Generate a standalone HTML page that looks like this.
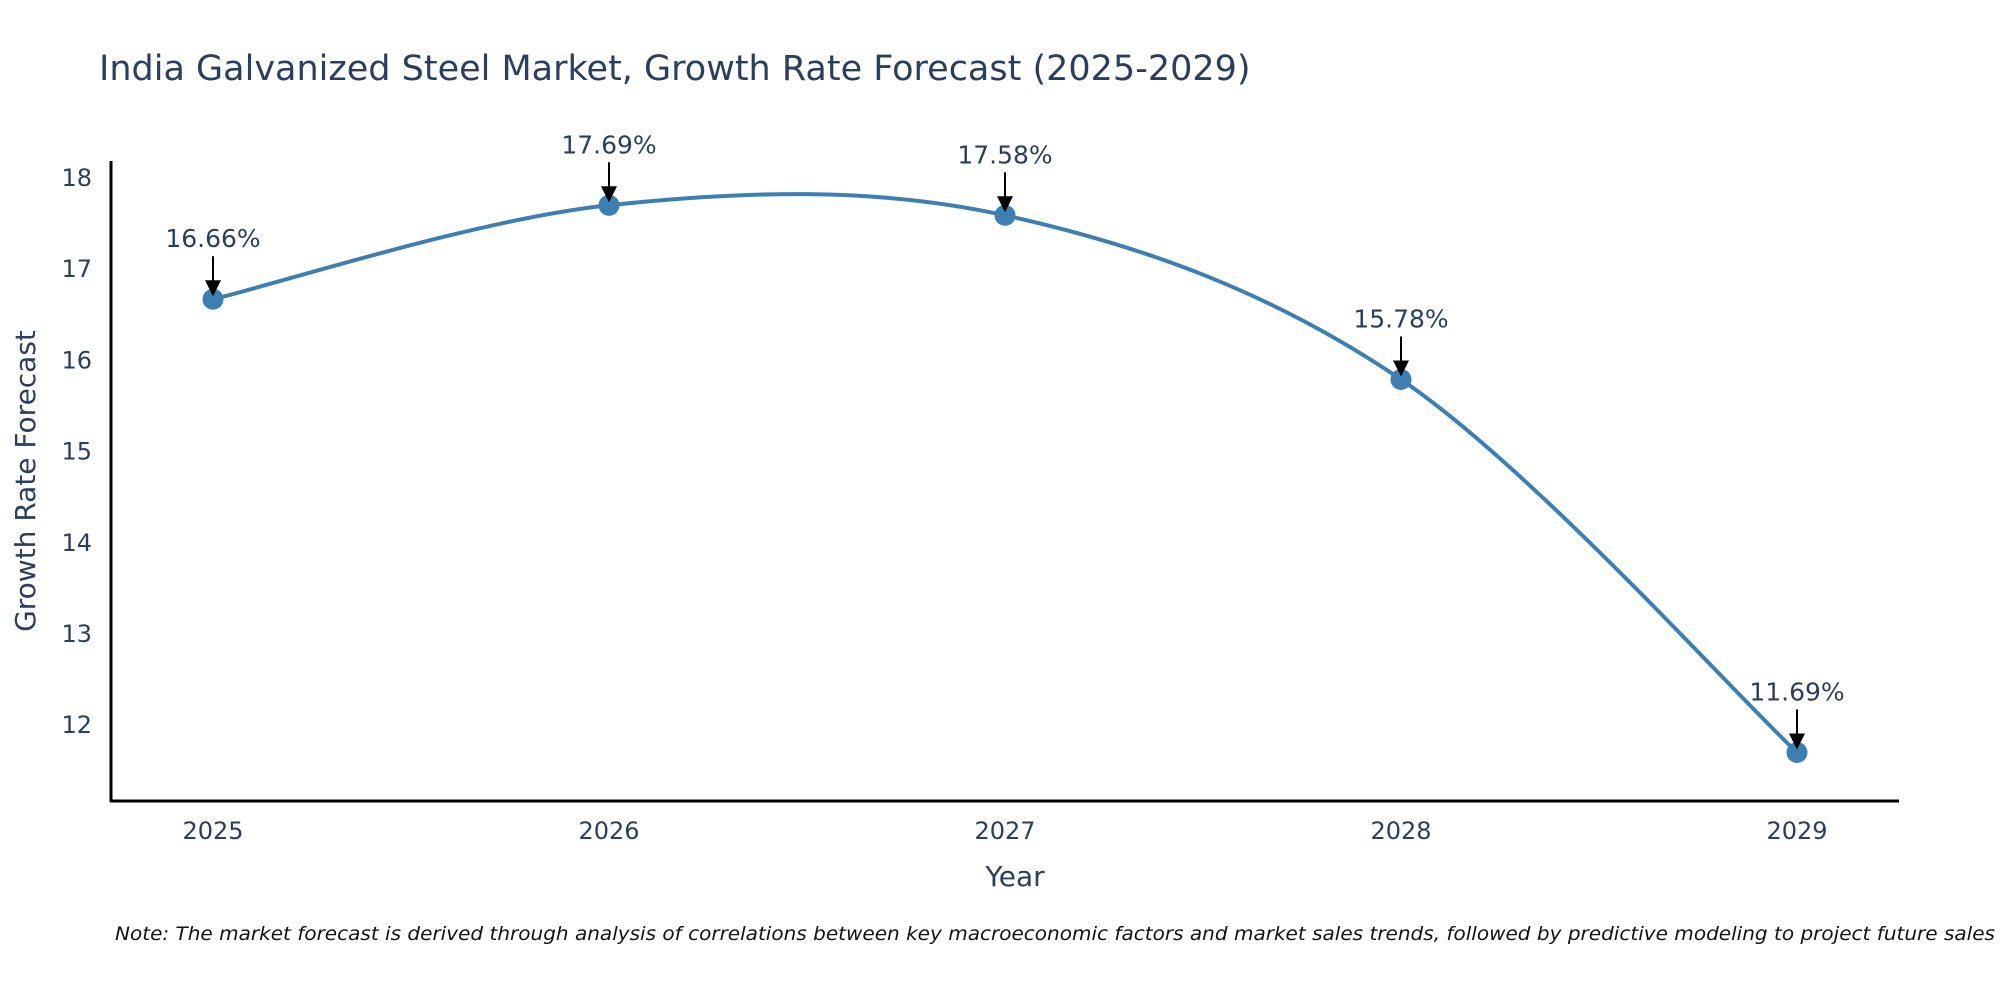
<!DOCTYPE html>
<html><head><meta charset="utf-8"><style>
body{margin:0;background:#fff;}
svg{display:block;font-family:"DejaVu Sans","Liberation Sans",sans-serif;}
</style></head><body>
<svg id="chart" width="2000" height="1000" viewBox="0 0 2000 1000">
<text x="99" y="80" font-size="35" fill="#2a3f5f">India Galvanized Steel Market, Growth Rate Forecast (2025-2029)</text>
<g id="axes"></g>
<g id="series"></g>
<g id="annots"></g>
<text x="1015" y="886" font-size="28" fill="#2a3f5f" text-anchor="middle">Year</text>
<text transform="translate(35,481) rotate(-90)" font-size="28" fill="#2a3f5f" text-anchor="middle">Growth Rate Forecast</text>
<text x="115" y="940" font-size="19" font-style="italic" fill="#111" textLength="1880" lengthAdjust="spacingAndGlyphs">Note: The market forecast is derived through analysis of correlations between key macroeconomic factors and market sales trends, followed by predictive modeling to project future sales</text>
</svg>
<script>
const years = [2025, 2026, 2027, 2028, 2029];
const growth = [16.66, 17.69, 17.58, 15.78, 11.69];
const labels = ["16.66%", "17.69%", "17.58%", "15.78%", "11.69%"];
const yTicks = [12, 13, 14, 15, 16, 17, 18];

const NS = "http://www.w3.org/2000/svg";
function X(v){ return 213 + (v - 2025) * (1797 - 213) / 4; }
function Y(v){ return 177 + (18 - v) * 91.2; }
function mk(tag, attrs, parent){ const e = document.createElementNS(NS, tag); for (const k in attrs) e.setAttribute(k, attrs[k]); parent.appendChild(e); return e; }

const axes = document.getElementById("axes");
const yl = mk("line", {x1:111, y1:161, x2:111, y2:802, stroke:"#000", "stroke-width":3}, axes);


const xl = mk("line", {x1:110, y1:801, x2:1899, y2:801, stroke:"#000", "stroke-width":3}, axes);


yTicks.forEach(t => {
  const e = mk("text", {x:92, y:Y(t)+9, "font-size":24, fill:"#2a3f5f", "text-anchor":"end"}, axes);
  e.textContent = t;
  
  
});
years.forEach(yr => {
  const e = mk("text", {x:X(yr), y:839, "font-size":24, fill:"#2a3f5f", "text-anchor":"middle"}, axes);
  e.textContent = yr;
  
  
});

const pts = years.map((yr,i) => [X(yr), Y(growth[i])]);
let d = "M" + pts[0][0] + "," + pts[0][1];
for (let i = 0; i < pts.length - 1; i++) {
  const p0 = pts[Math.max(i-1,0)], p1 = pts[i], p2 = pts[i+1], p3 = pts[Math.min(i+2,pts.length-1)];
  const c1 = [p1[0] + (p2[0]-p0[0])/6, p1[1] + (p2[1]-p0[1])/6];
  const c2 = [p2[0] - (p3[0]-p1[0])/6, p2[1] - (p3[1]-p1[1])/6];
  d += " C" + c1 + " " + c2 + " " + p2;
}
const series = document.getElementById("series");
const line = mk("path", {d:d, fill:"none", stroke:"#3d7fb3", "stroke-width":4}, series);


pts.forEach(p => {
  const c = mk("circle", {cx:p[0], cy:p[1], r:10.5, fill:"#3d7fb3"}, series);
  
  
});

const ann = document.getElementById("annots");
pts.forEach((p,i) => {
  const t = mk("text", {x:p[0], y:p[1]-52, "font-size":25, fill:"#2a3f5f", "text-anchor":"middle"}, ann);
  t.textContent = labels[i];
  
  
  const a = mk("line", {x1:p[0], y1:p[1]-43, x2:p[0], y2:p[1]-16, stroke:"#000", "stroke-width":2}, ann);
  
  
  const h = mk("polygon", {points:(p[0]-8)+","+(p[1]-19)+" "+(p[0]+8)+","+(p[1]-19)+" "+p[0]+","+(p[1]-3), fill:"#000"}, ann);
  
  
});
</script>
</body></html>
